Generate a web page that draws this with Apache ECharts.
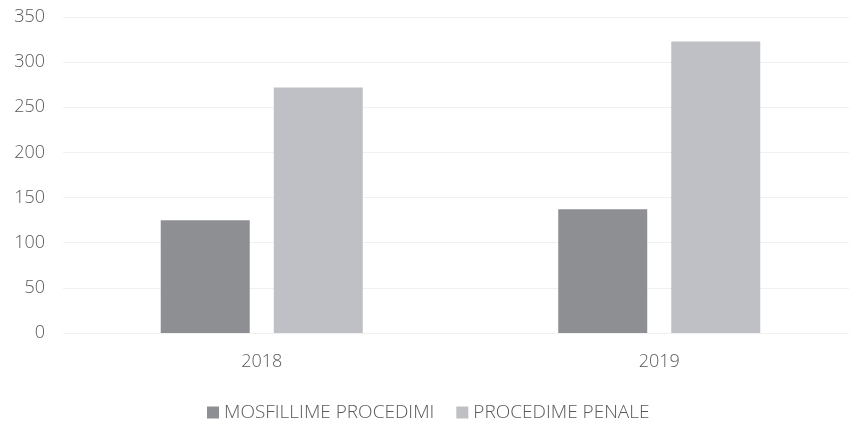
<!DOCTYPE html>
<html><head><meta charset="utf-8">
<script src="https://cdn.jsdelivr.net/npm/echarts@6/dist/echarts.min.js"></script>
<style>html,body{margin:0;padding:0;background:#fff}#c{width:849px;height:425px}</style>
</head><body><div id="c"></div>
<script>
const categories = ['2018', '2019'];
const seriesNames = ['MOSFILLIME PROCEDIMI', 'PROCEDIME PENALE'];
const mosfillime = [125, 137];
const penale = [272, 323];
const yTicks = {min: 0, max: 350, interval: 50};

const chart = echarts.init(document.getElementById('c'));
const font = '"Open Sans", Lato, sans-serif';
chart.setOption({
  backgroundColor: '#fff',
  animation: false,
  grid: {left: 63, width: 795, top: 17, height: 316, outerBoundsMode: 'none', containLabel: false},
  legend: {
    top: 398, left: 202, itemWidth: 12, itemHeight: 12, itemGap: 22,
    icon: 'rect',
    textStyle: {color: '#595959', fontSize: 19, fontFamily: font, fontWeight: 300},
    data: seriesNames
  },
  xAxis: {
    type: 'category', data: categories,
    axisLine: {show: false}, axisTick: {show: false},
    axisLabel: {color: '#595959', fontSize: 18, fontFamily: font, fontWeight: 300, margin: 20}
  },
  yAxis: {
    type: 'value', min: yTicks.min, max: yTicks.max, interval: yTicks.interval,
    axisLine: {show: false}, axisTick: {show: false},
    axisLabel: {color: '#595959', fontSize: 18, fontFamily: font, fontWeight: 300, margin: 18},
    splitLine: {lineStyle: {color: '#f0f0f0', width: 1}}
  },
  series: [
    {name: seriesNames[0], type: 'bar', data: mosfillime, barWidth: 89, barGap: '27%',
     itemStyle: {color: '#8e8f93'}},
    {name: seriesNames[1], type: 'bar', data: penale, barWidth: 89,
     itemStyle: {color: '#bfc0c5'}}
  ]
});
</script></body></html>
